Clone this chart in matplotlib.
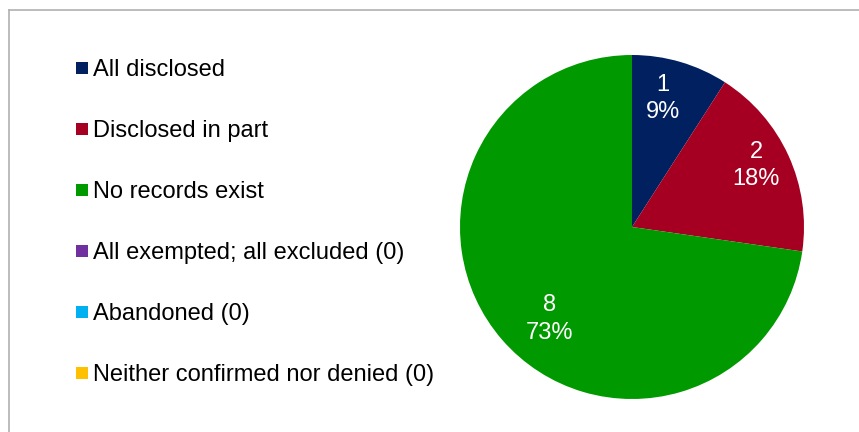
import numpy as np
import matplotlib
matplotlib.use('Agg')
import matplotlib.pyplot as plt
from matplotlib.lines import Line2D

plt.rcParams['font.family'] = ['Liberation Sans', 'DejaVu Sans']

categories = ['All disclosed', 'Disclosed in part', 'No records exist',
              'All exempted; all excluded (0)', 'Abandoned (0)',
              'Neither confirmed nor denied (0)']
counts = [1, 2, 8, 0, 0, 0]
colors = ['#002060', '#A50021', '#009900', '#7030A0', '#00B0F0', '#FFC000']

# label placement (angle in degrees, fraction of radius), like Excel best fit
label_place = [(76.4, 0.77), (26.4, 0.805), (228.0, 0.72)]

fig = plt.figure(figsize=(8.59, 4.32), dpi=100)

# thin grey chart border (top and left visible)
fig.add_artist(Line2D([9 / 859, 1], [1 - 10 / 432, 1 - 10 / 432], color='#b0b0b0', lw=1.2))
fig.add_artist(Line2D([9 / 859, 9 / 859], [0, 1 - 10 / 432], color='#b0b0b0', lw=1.2))

ax = fig.add_axes([460 / 859, 33 / 432, 344 / 859, 344 / 432])
nz = [i for i, c in enumerate(counts) if c > 0]
vals = [counts[i] for i in nz]
ax.pie(vals, colors=[colors[i] for i in nz], startangle=90, counterclock=False,
       radius=1, wedgeprops=dict(linewidth=0))
ax.set_xlim(-1, 1)
ax.set_ylim(-1, 1)
ax.set_aspect('equal')
ax.axis('off')

total = sum(vals)
for v, (ang, r) in zip(vals, label_place):
    a = np.radians(ang)
    ax.text(r * np.cos(a), r * np.sin(a), '%d\n%d%%' % (v, round(100 * v / total)),
            ha='center', va='center', color='white', fontsize=17, linespacing=1.32)

handles = [Line2D([], [], marker='s', linestyle='none', markersize=8.6,
                  markerfacecolor=c, markeredgewidth=0) for c in colors]
fig.legend(handles, categories, loc='upper left',
           bbox_to_anchor=(75 / 859, 1 - 59 / 432), frameon=False,
           fontsize=17, handlelength=0.6, handletextpad=0.17,
           labelspacing=1.65, borderpad=0, borderaxespad=0)

fig.savefig('out.png', dpi=100)
